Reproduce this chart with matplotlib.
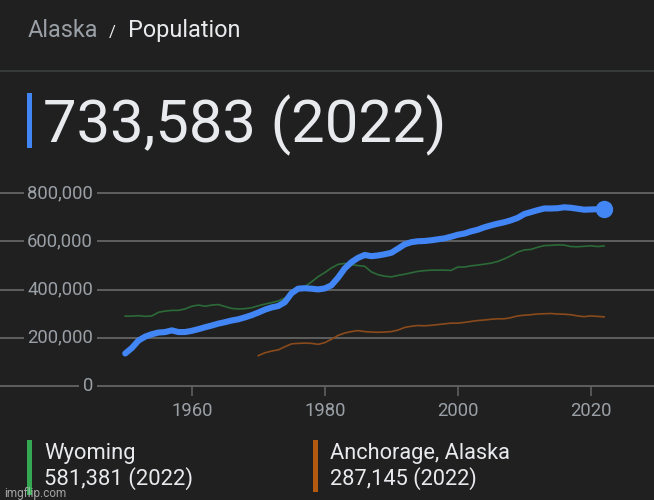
import matplotlib
matplotlib.use("Agg")
import matplotlib.pyplot as plt
from matplotlib.patches import Rectangle
from matplotlib.lines import Line2D

# Population by year (approximate)
years_ak = list(range(1950, 2023))
alaska = [135000, 158000, 189000, 205000, 215000, 222000, 224000, 231000, 224000, 224000,
          229000, 236000, 244000, 251000, 259000, 265000, 272000, 277000, 285000, 294000,
          305000, 317000, 326000, 332000, 348000, 385000, 404000, 406000, 404000, 401000,
          405000, 418000, 450000, 488000, 514000, 532000, 544000, 539000, 542000, 547000,
          553000, 570000, 588000, 597000, 601000, 602000, 605000, 609000, 613000, 620000,
          628000, 633000, 642000, 649000, 659000, 667000, 674000, 680000, 688000, 698000,
          714000, 722000, 730000, 737000, 737000, 738000, 742000, 740000, 736000, 732000,
          733000, 734000, 733583]

years_wy = list(range(1950, 2023))
wyoming = [290000, 290000, 292000, 289000, 291000, 306000, 311000, 314000, 314000, 320000,
           331000, 336000, 331000, 336000, 338000, 330000, 322000, 320000, 321000, 325000,
           333000, 340000, 346000, 353000, 365000, 382000, 398000, 413000, 432000, 454000,
           471000, 490000, 505000, 509000, 504000, 500000, 497000, 474000, 462000, 456000,
           453000, 459000, 464000, 470000, 476000, 479000, 481000, 481000, 481000, 480000,
           494000, 494000, 499000, 502000, 506000, 510000, 517000, 528000, 541000, 556000,
           565000, 567000, 576000, 583000, 584000, 586000, 585000, 579000, 578000, 580000,
           582000, 579000, 581381]

years_anc = list(range(1970, 2023))
anchorage = [126000, 138000, 145000, 150000, 163000, 175000, 177000, 178000, 177000, 173000,
             180000, 194000, 210000, 220000, 226000, 230000, 226000, 224000, 223000, 224000,
             226000, 232000, 243000, 248000, 251000, 250000, 252000, 255000, 258000, 261000,
             261000, 264000, 268000, 272000, 274000, 277000, 279000, 279000, 284000, 291000,
             294000, 296000, 299000, 300000, 301000, 299000, 298000, 296000, 291000, 288000,
             291000, 289000, 287145]

y_ticks = [0, 200000, 400000, 600000, 800000]
x_ticks = [1960, 1980, 2000, 2020]

bg = "#202020"
grid_col = "#646464"
light = "#e8eaed"
grey = "#9aa0a6"
blue = "#4285f4"

plt.rcParams["font.family"] = ["Roboto", "DejaVu Sans"]

W, H = 654, 500
fig = plt.figure(figsize=(W / 100, H / 100), dpi=100, facecolor=bg)


def fx(x):
    return x / W


def fy(y):
    return 1 - y / H


# header
fig.text(fx(28), fy(36.7), "Alaska", color=grey, fontsize=16.8, va="baseline")
fig.text(fx(108.5), fy(36.7), "/", color=light, fontsize=12, va="baseline")
fig.text(fx(128), fy(36.7), "Population", color=light, fontsize=16.9, va="baseline")
fig.add_artist(Line2D([0, 1], [fy(71), fy(71)], transform=fig.transFigure,
                      color="#3a3d3f", lw=1.3))

# headline value
fig.patches.append(Rectangle((fx(27), fy(148)), fx(5), 55 / H, transform=fig.transFigure,
                             facecolor=blue, edgecolor="none"))
fig.text(fx(43), fy(142.7), "733,583 (2022)", color=light, fontsize=43, va="baseline")

# chart
ax = fig.add_axes([0, fy(386), 1, (386 - 188.5) / H])
ax.set_facecolor(bg)
ax.set_xlim(1931.17, 2029.5)
ax.set_ylim(0, 820000)
for s in ax.spines.values():
    s.set_visible(False)

for v in y_ticks:
    ax.axhline(v, color=grid_col, lw=1.3, zorder=0.5, clip_on=False)
    ax.text(93 / W, v, f"{v:,}", transform=ax.get_yaxis_transform(), ha="right",
            va="center", color=grey, fontsize=13.3, zorder=1,
            bbox=dict(facecolor=bg, edgecolor="none", pad=2.5))

ax.set_yticks([])
ax.set_xticks(x_ticks)
ax.set_xticklabels([str(t) for t in x_ticks])
ax.tick_params(axis="x", length=7.5, width=1.1, color=grid_col, labelcolor=grey,
               labelsize=13.3, pad=4)

ax.plot(years_wy, wyoming, color="#2c6a38", lw=1.2, zorder=2)
ax.plot(years_anc, anchorage, color="#8a4a1b", lw=1.2, zorder=2)
ax.plot(years_ak, alaska, color=blue, lw=4.4, solid_capstyle="round",
        solid_joinstyle="round", zorder=3)
ax.plot(years_ak[-1], alaska[-1], "o", color=blue, markersize=11.5, zorder=4,
        clip_on=False)

# legend
fig.patches.append(Rectangle((fx(27), fy(495)), fx(5), 55 / H, transform=fig.transFigure,
                             facecolor="#34a853", edgecolor="none"))
fig.text(fx(44.5), fy(459.3), "Wyoming", color=light, fontsize=15.8, va="baseline")
fig.text(fx(44.5), fy(485), "581,381 (2022)", color=light, fontsize=15.8, va="baseline")

fig.patches.append(Rectangle((fx(313), fy(492)), fx(5), 52 / H, transform=fig.transFigure,
                             facecolor="#b35a10", edgecolor="none"))
fig.text(fx(330), fy(459.3), "Anchorage, Alaska", color=light, fontsize=15.7, va="baseline")
fig.text(fx(330), fy(485), "287,145 (2022)", color=light, fontsize=15.7, va="baseline")

fig.text(fx(4), fy(497), "imgflip.com", color="#d0d0d0", alpha=0.75, fontsize=8.5,
         va="baseline")

fig.savefig("out.png", dpi=100, facecolor=bg)
